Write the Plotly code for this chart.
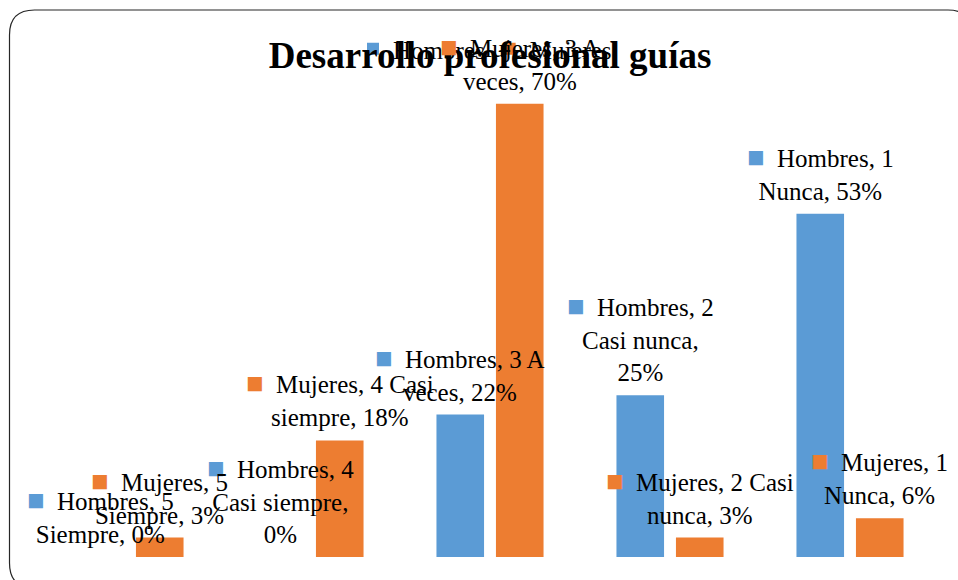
import plotly.graph_objects as go

# ---- data ----
categories = ["5 Siempre", "4 Casi siempre", "3 A veces", "2 Casi nunca", "1 Nunca"]
hombres = [0, 0, 22, 25, 53]
mujeres = [3, 18, 70, 3, 6]
series_names = ["Hombres", "Mujeres"]
colors = ["#5B9BD5", "#ED7D31"]
# words per line for each data label (Excel-like wrapping)
hombres_wrap = [[2, 2], [2, 2, 1], [3, 2], [2, 2, 1], [2, 2]]
mujeres_wrap = [[2, 2], [3, 2], [3, 2], [3, 2], [2, 2]]
title_text = "Desarrollo profesional guías"

W, H = 958, 580
ML, MR, MT, MB = 40, 18, 39, 23
PW, PH = W - ML - MR, H - MT - MB
FONT = "Liberation Serif"
BARGAP, GROUPGAP = 0.339, 0.2

fig = go.Figure()
for name, vals, col in zip(series_names, [hombres, mujeres], colors):
    fig.add_trace(go.Bar(name=name, x=categories, y=vals, marker=dict(color=col, line=dict(width=0))))


def wrap(text, counts):
    words = text.split(" ")
    lines, i = [], 0
    for c in counts:
        lines.append(" ".join(words[i:i + c]))
        i += c
    return lines


annotations = []
slot = (1 - BARGAP) / 2
for si, (name, vals, col, wraps) in enumerate(zip(series_names, [hombres, mujeres], colors,
                                                   [hombres_wrap, mujeres_wrap])):
    for ci, (cat, v, wr) in enumerate(zip(categories, vals, wraps)):
        lines = wrap(f"{name}, {cat}, {v}%", wr)
        key = f"<span style='color:{col};font-size:29px'>■</span>\u00a0\u00a0"
        txt = key + lines[0] + "".join("<br>" + l for l in lines[1:])
        xpos = ci + (si - 0.5) * slot
        annotations.append(dict(x=xpos, y=v, xref="x", yref="y", text=txt, showarrow=False,
                                xanchor="center", yanchor="bottom", align="center", yshift=7,
                                font=dict(family=FONT, size=25, color="black")))


def px(x):
    return (x - ML) / PW


def py(y):
    return (H - MB - y) / PH


L, T, R, B, r = 9.5, 10, 973, 588, 25
path = (f"M {px(L)},{py(T + r)} Q {px(L)},{py(T)} {px(L + r)},{py(T)} "
        f"L {px(R - r)},{py(T)} Q {px(R)},{py(T)} {px(R)},{py(T + r)} "
        f"L {px(R)},{py(B - r)} Q {px(R)},{py(B)} {px(R - r)},{py(B)} "
        f"L {px(L + r)},{py(B)} Q {px(L)},{py(B)} {px(L)},{py(B - r)} Z")

fig.update_layout(
    width=W, height=H,
    margin=dict(l=ML, r=MR, t=MT, b=MB, pad=0),
    paper_bgcolor="white", plot_bgcolor="white",
    barmode="group", bargap=BARGAP, bargroupgap=GROUPGAP,
    title=dict(text=title_text, x=490 / W, xref="container", xanchor="center",
               y=1 - 55 / H, yref="container", yanchor="middle",
               font=dict(family=FONT, size=37, color="black", weight="bold")),
    legend=dict(orientation="h", x=px(353), y=py(49), xanchor="left", yanchor="middle",
                font=dict(family=FONT, size=25, color="black"), bgcolor="rgba(0,0,0,0)",
                itemwidth=30),
    xaxis=dict(visible=False, range=[-0.5, 4.5]),
    yaxis=dict(visible=False, range=[0, 80]),
    annotations=annotations,
    shapes=[dict(type="path", xref="paper", yref="paper", path=path,
                 line=dict(color="#262626", width=1.2), fillcolor="rgba(0,0,0,0)", layer="above")],
    showlegend=True,
)

fig.write_html("out.html", config={"displayModeBar": False},
               post_script="document.body.style.margin='0';")
